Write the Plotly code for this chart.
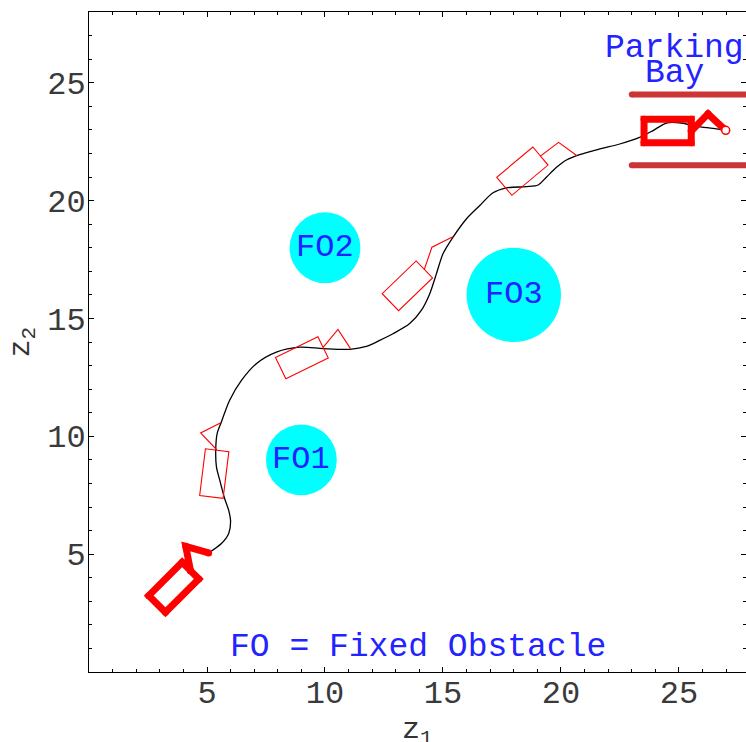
import math
import plotly.graph_objects as go

# Path followed by the front point of the vehicle
path_x = [5.07, 5.61, 5.92, 6.00, 5.92, 5.75, 5.54, 5.40, 5.37, 5.43, 5.61, 5.96,
          6.46, 7.09, 7.94, 8.93, 9.92, 11.05, 11.75, 12.32, 12.88, 13.59, 14.08,
          14.44, 14.72, 15.00, 15.42, 15.99, 16.56, 17.12, 17.69, 18.53, 19.03,
          19.38, 19.81, 20.23, 20.79, 21.64, 22.49, 23.33, 23.90, 24.47, 25.10,
          25.74, 26.44, 26.98]
path_y = [5.05, 5.45, 5.88, 6.37, 6.86, 7.35, 8.14, 8.70, 9.41, 10.11, 10.61, 11.53,
          12.37, 13.08, 13.57, 13.78, 13.72, 13.69, 13.81, 14.07, 14.35, 14.78, 15.34,
          16.05, 16.89, 17.74, 18.44, 19.22, 19.79, 20.33, 20.54, 20.59, 20.66,
          20.99, 21.41, 21.72, 21.95, 22.19, 22.40, 22.68, 22.97, 23.29, 23.29,
          23.15, 23.06, 22.98]

# Vehicle snapshots: hitch point (front middle of the body), body heading (deg),
# joint of the two links and the leading tip
hitch_x = [4.30, 5.43, 9.92, 14.21, 19.13, 25.52]
hitch_y = [4.30, 9.41, 13.77, 17.08, 21.89, 22.95]
heading_deg = [45, 83, 26, 44, 40, 0]
joint_x = [4.10, 4.73, 10.55, 14.53, 19.90, 26.23]
joint_y = [5.33, 10.14, 14.53, 18.02, 22.47, 23.68]
tip_x = [5.07, 5.61, 11.08, 15.42, 20.68, 26.98]
tip_y = [5.05, 10.58, 13.72, 18.47, 21.90, 22.98]
bold_pose = [True, False, False, False, False, True]
body_length = 2.0
body_width = 1.0

# Fixed obstacles
obs_x = [9, 10, 18]
obs_y = [9, 18, 16]
obs_r = [1.5, 1.5, 2.0]
obs_label = ["FO1", "FO2", "FO3"]

# Parking bay walls
bay_wall_y = [24.5, 21.5]
bay_wall_x = [23.0, 28.5]

x_major = [5, 10, 15, 20, 25]
y_major = [5, 10, 15, 20, 25]

MONO = "Liberation Mono"
BLUE = "#2323ff"
RED = "#ff0000"
WALL = "#cc3535"

fig = go.Figure()

# obstacles
for cx, cy, r in zip(obs_x, obs_y, obs_r):
    fig.add_shape(type="circle", xref="x", yref="y",
                  x0=cx - r, x1=cx + r, y0=cy - r, y1=cy + r,
                  fillcolor="#00ffff", line=dict(width=0), layer="below")

# parking bay walls (round cap on the visible end)
for wy in bay_wall_y:
    fig.add_trace(go.Scatter(x=bay_wall_x, y=[wy, wy], mode="lines",
                             line=dict(color=WALL, width=6),
                             hoverinfo="skip", showlegend=False))
    fig.add_trace(go.Scatter(x=[bay_wall_x[0]], y=[wy], mode="markers",
                             marker=dict(size=6, color=WALL, line=dict(width=0)),
                             hoverinfo="skip", showlegend=False))

# trajectory
fig.add_trace(go.Scatter(x=path_x, y=path_y, mode="lines",
                         line=dict(color="black", width=1.3, shape="spline", smoothing=0.8),
                         hoverinfo="skip", showlegend=False))

# vehicle outlines
for hx, hy, th, jx, jy, tx, ty, bold in zip(hitch_x, hitch_y, heading_deg,
                                           joint_x, joint_y, tip_x, tip_y, bold_pose):
    a = math.radians(th)
    ux, uy = math.cos(a), math.sin(a)
    nx, ny = -uy, ux
    bx, by = hx - body_length * ux, hy - body_length * uy
    hw = body_width / 2
    xs = [hx, hx + hw * nx, bx + hw * nx, bx - hw * nx, hx - hw * nx, hx, jx, tx]
    ys = [hy, hy + hw * ny, by + hw * ny, by - hw * ny, hy - hw * ny, hy, jy, ty]
    fig.add_trace(go.Scatter(x=xs, y=ys, mode="lines",
                             line=dict(color=RED, width=7 if bold else 1.1),
                             hoverinfo="skip", showlegend=False))
    if bold:
        # rounded joints on the heavy outline
        fig.add_trace(go.Scatter(x=xs, y=ys, mode="markers",
                                 marker=dict(size=7, color=RED, line=dict(width=0)),
                                 hoverinfo="skip", showlegend=False))

# goal marker at the end of the path
fig.add_trace(go.Scatter(x=[path_x[-1]], y=[path_y[-1]], mode="markers",
                         marker=dict(size=8, color="white", line=dict(color=RED, width=1.5)),
                         hoverinfo="skip", showlegend=False))

# labels
for cx, cy, lab in zip(obs_x, obs_y, obs_label):
    fig.add_annotation(x=cx, y=cy, text=lab, showarrow=False,
                       font=dict(family=MONO, size=32, color=BLUE))
fig.add_annotation(x=24.8, y=26.45, text="Parking", showarrow=False,
                   font=dict(family=MONO, size=33, color=BLUE))
fig.add_annotation(x=24.8, y=25.4, text="Bay", showarrow=False,
                   font=dict(family=MONO, size=33, color=BLUE))
fig.add_annotation(x=13.95, y=1.06, text="FO = Fixed Obstacle", showarrow=False,
                   font=dict(family=MONO, size=33, color=BLUE))

# axis titles
fig.add_annotation(xref="paper", yref="paper", x=0.5, y=0, yshift=-80,
                   text="z<sub>1</sub>", showarrow=False,
                   font=dict(family=MONO, size=30, color="#333333"))
fig.add_annotation(xref="paper", yref="paper", x=0, y=0.5, xshift=-88,
                   text="z<sub>2</sub>", textangle=-90, showarrow=False,
                   font=dict(family=MONO, size=30, color="#333333"))

axis_common = dict(showline=True, linecolor="black", linewidth=1, mirror="ticks",
                   ticks="inside", ticklen=5, tickwidth=1, tickcolor="black",
                   showgrid=False, zeroline=False,
                   tickfont=dict(family=MONO, size=32, color="#3a3a3a"),
                   minor=dict(ticks="inside", ticklen=3, tickwidth=1, tickcolor="black",
                              dtick=1, showgrid=False))

fig.update_layout(
    width=746, height=742,
    margin=dict(l=89, r=0, t=12, b=70),
    paper_bgcolor="white", plot_bgcolor="white",
    xaxis=dict(range=[0, 27.84], tickvals=x_major, ticklabelstandoff=-8, **axis_common),
    yaxis=dict(range=[0, 28], tickvals=y_major, ticklabelstandoff=-4, **axis_common),
    showlegend=False,
)

fig.write_html("out.html")
